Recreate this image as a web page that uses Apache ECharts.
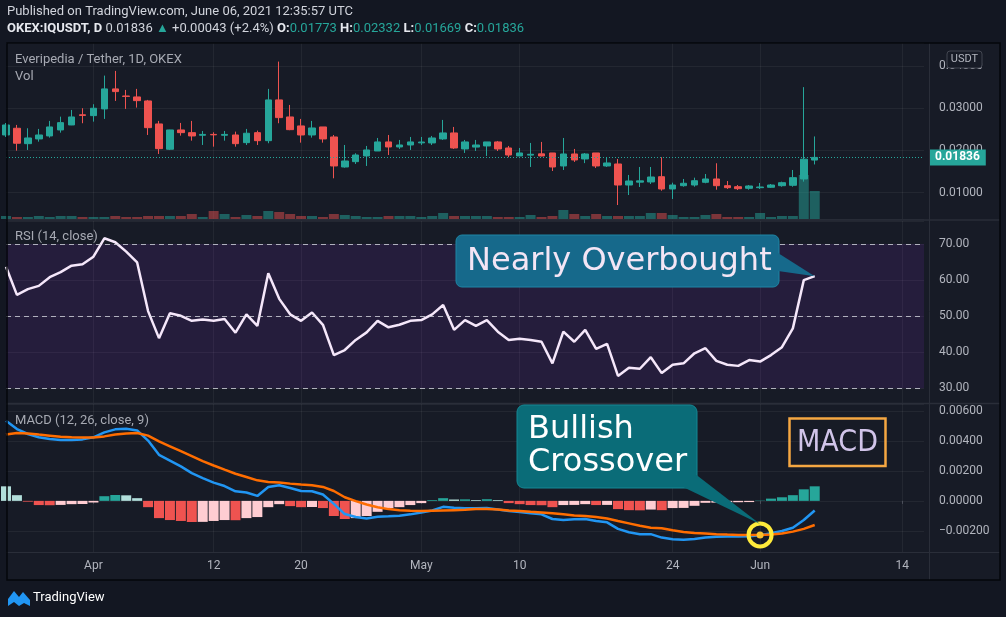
<!DOCTYPE html>
<html><head><meta charset="utf-8">
<script src="https://cdn.jsdelivr.net/npm/echarts@6/dist/echarts.min.js"></script>
<style>
html,body{margin:0;padding:0;background:#131722;overflow:hidden;}
#bg{position:absolute;left:7px;top:43px;width:993px;height:537px;background:#171b26;}
#c{position:absolute;left:0;top:0;width:1006px;height:617px;}
</style>
</head><body><div id="bg"></div><div id="c"></div><script>
// ---- data ----
const startDate = '2021-03-24';
const dayCount = 85; // Mar 24 .. Jun 16
const tickDates = ['2021-04-01','2021-04-12','2021-04-20','2021-05-01','2021-05-10','2021-05-24','2021-06-01','2021-06-14'];
const tickLabels = ['Apr','12','20','May','10','24','Jun','14'];
// [open, close, low, high]
const candles = [
[0.02367,0.02604,0.02320,0.02650],[0.02526,0.02171,0.01995,0.02605],[0.02161,0.02296,0.02012,0.02526],[0.02273,0.02367,0.02209,0.02510],
[0.02344,0.02557,0.02304,0.02700],[0.02486,0.02659,0.02422,0.02801],[0.02604,0.02794,0.02600,0.02960],[0.02845,0.02830,0.02645,0.03000],
[0.02825,0.03000,0.02683,0.03095],[0.02984,0.03458,0.02747,0.03773],[0.03458,0.03394,0.03173,0.03884],[0.03290,0.03280,0.02984,0.03434],
[0.03268,0.03180,0.03015,0.03458],[0.03173,0.02540,0.02367,0.03197],[0.02628,0.02043,0.01917,0.02700],[0.02029,0.02486,0.02010,0.02490],
[0.02486,0.02422,0.02351,0.02652],[0.02422,0.02344,0.02232,0.02700],[0.02360,0.02380,0.02130,0.02462],[0.02380,0.02370,0.02090,0.02431],
[0.02360,0.02380,0.02232,0.02462],[0.02367,0.02161,0.02090,0.02446],[0.02185,0.02408,0.02130,0.02510],[0.02422,0.02232,0.02130,0.02470],
[0.02232,0.03197,0.02171,0.03458],[0.03197,0.02778,0.02645,0.04105],[0.02794,0.02493,0.02480,0.03078],[0.02581,0.02367,0.02185,0.02747],
[0.02367,0.02533,0.02304,0.02700],[0.02557,0.02273,0.02185,0.02557],[0.02320,0.01633,0.01341,0.02367],[0.01609,0.01751,0.01593,0.02130],
[0.01735,0.01893,0.01680,0.01934],[0.01870,0.02012,0.01633,0.02107],[0.01988,0.02202,0.01990,0.02296],[0.02202,0.02083,0.01893,0.02367],
[0.02083,0.02130,0.02036,0.02249],[0.02130,0.02202,0.02012,0.02320],[0.02180,0.02200,0.02130,0.02320],[0.02178,0.02296,0.02130,0.02344],
[0.02273,0.02415,0.02249,0.02723],[0.02415,0.02059,0.02036,0.02557],[0.02036,0.02202,0.01941,0.02249],[0.02080,0.02130,0.01988,0.02249],
[0.02107,0.02202,0.01870,0.02202],[0.02202,0.02036,0.01988,0.02225],[0.02059,0.01893,0.01839,0.02107],[0.01870,0.01941,0.01870,0.02059],
[0.01890,0.01910,0.01609,0.02178],[0.01920,0.01870,0.01860,0.02202],[0.01941,0.01609,0.01514,0.01941],[0.01633,0.01917,0.01538,0.02296],
[0.01917,0.01775,0.01728,0.02036],[0.01799,0.01917,0.01700,0.01940],[0.01941,0.01633,0.01585,0.01941],[0.01633,0.01704,0.01609,0.01846],
[0.01680,0.01182,0.00708,0.01799],[0.01182,0.01277,0.00945,0.01420],[0.01250,0.01280,0.01135,0.01609],[0.01254,0.01372,0.01206,0.01609],
[0.01379,0.01088,0.01047,0.01839],[0.01088,0.01182,0.00851,0.01237],[0.01166,0.01223,0.01142,0.01325],[0.01182,0.01284,0.01142,0.01356],
[0.01246,0.01325,0.01223,0.01443],[0.01325,0.01166,0.01071,0.01697],[0.01166,0.01119,0.01088,0.01277],[0.01142,0.01095,0.01064,0.01182],
[0.01104,0.01159,0.01071,0.01182],[0.01119,0.01135,0.01088,0.01230],[0.01128,0.01182,0.01111,0.01206],[0.01166,0.01237,0.01142,0.01261],
[0.01175,0.01356,0.01142,0.01538],[0.01325,0.01793,0.01261,0.03500],[0.01773,0.01836,0.01669,0.02332]
];
// volume, thousands
const volumes = [300,200,200,300,200,300,300,200,200,200,300,200,200,300,300,300,300,500,200,800,
500,200,400,300,800,700,500,300,300,200,500,400,300,200,200,300,300,300,200,300,
600,300,300,300,300,200,200,200,400,200,300,900,500,300,500,300,300,300,300,600,
600,400,200,200,400,500,200,200,200,600,200,300,300,4400,2800];
const rsi = [63.7,55.9,57.5,58.4,60.8,62.2,64.0,64.4,66.5,71.6,70.5,67.9,64.9,51.4,43.9,50.8,50.1,48.7,49.1,48.7,
49.2,45.4,50.5,47.3,61.9,54.8,50.5,48.7,51.0,47.6,39.2,40.6,43.4,45.5,48.7,46.9,47.6,48.7,48.9,50.5,
53.1,46.2,48.9,47.3,48.9,45.7,43.4,43.7,43.4,42.9,36.9,45.7,42.9,46.2,40.9,42.3,33.4,35.7,35.4,38.6,
34.2,36.5,36.9,39.7,41.1,37.6,36.5,36.2,37.8,37.4,39.2,41.4,46.6,60.0,61.1];
const macd = [0.00534,0.00479,0.00446,0.00424,0.00413,0.00406,0.00406,0.00410,0.00424,0.00457,
0.00477,0.00481,0.00470,0.00402,0.00307,0.00269,0.00230,0.00185,0.00152,0.00122,
0.00099,0.00064,0.00056,0.00033,0.00093,0.00104,0.00086,0.00066,0.00064,0.00042,
-0.00020,-0.00088,-0.00108,-0.00117,-0.00106,-0.00103,-0.00099,-0.00090,-0.00077,-0.00064,
-0.00040,-0.00046,-0.00050,-0.00050,-0.00048,-0.00057,-0.00068,-0.00075,-0.00083,-0.00090,
-0.00121,-0.00128,-0.00123,-0.00121,-0.00134,-0.00143,-0.00187,-0.00209,-0.00222,-0.00222,
-0.00245,-0.00256,-0.00260,-0.00254,-0.00245,-0.00240,-0.00238,-0.00238,-0.00236,-0.00229,
-0.00216,-0.00201,-0.00179,-0.00128,-0.00064];
const signal = [0.00442,0.00453,0.00450,0.00442,0.00435,0.00428,0.00424,0.00422,0.00422,0.00430,
0.00442,0.00450,0.00453,0.00435,0.00397,0.00364,0.00331,0.00298,0.00265,0.00236,
0.00208,0.00181,0.00159,0.00137,0.00126,0.00122,0.00115,0.00109,0.00104,0.00093,
0.00066,0.00024,-0.00002,-0.00024,-0.00042,-0.00055,-0.00062,-0.00066,-0.00068,-0.00066,
-0.00064,-0.00062,-0.00060,-0.00055,-0.00055,-0.00057,-0.00064,-0.00068,-0.00073,-0.00077,
-0.00083,-0.00090,-0.00097,-0.00101,-0.00108,-0.00117,-0.00134,-0.00150,-0.00166,-0.00179,
-0.00183,-0.00196,-0.00207,-0.00214,-0.00218,-0.00222,-0.00225,-0.00227,-0.00227,-0.00227,
-0.00225,-0.00218,-0.00205,-0.00187,-0.00161];
const hist = [0.00097,0.00038,-0.00005,-0.00028,-0.00029,-0.00027,-0.00022,-0.00021,-0.00011,0.00031,
0.00039,0.00037,0.00018,-0.00042,-0.00115,-0.00128,-0.00134,-0.00141,-0.00140,-0.00134,
-0.00128,-0.00129,-0.00115,-0.00108,-0.00042,-0.00022,-0.00035,-0.00042,-0.00041,-0.00048,
-0.00101,-0.00121,-0.00115,-0.00101,-0.00073,-0.00048,-0.00042,-0.00028,-0.00015,0.00005,
0.00018,0.00009,0.00010,0.00005,0.00011,0.00005,-0.00015,-0.00022,-0.00028,-0.00029,
-0.00042,-0.00028,-0.00027,-0.00022,-0.00028,-0.00027,-0.00055,-0.00062,-0.00063,-0.00058,
-0.00062,-0.00048,-0.00047,-0.00033,-0.00013,-0.00012,-0.00011,-0.00009,-0.00008,0.00002,
0.00015,0.00024,0.00038,0.00077,0.00097];
const lastPrice = 0.01836;
const crossIndex = 69;

// ---- build ----
const dates = [];
const d0 = Date.parse(startDate + 'T00:00:00Z');
for (let i = 0; i < dayCount; i++) dates.push(new Date(d0 + i * 864e5).toISOString().slice(0, 10));

const GRID = 'rgba(255,255,255,0.055)';
const TXT = '#b2b5be';
const FONT = 'Roboto, "Liberation Sans", sans-serif';
const UP = '#26a69a', DOWN = '#ef5350';
const isTick = (idx, val) => tickDates.indexOf(val) >= 0;
const fmtTick = val => { const k = tickDates.indexOf(val); return k >= 0 ? tickLabels[k] : ''; };

function xAx(gi, showLabel) {
  return { type: 'category', gridIndex: gi, data: dates, boundaryGap: false,
    axisLine: { show: false },
    axisTick: { show: showLabel, interval: isTick, length: 3, lineStyle: { color: '#4c505b' } },
    axisLabel: { show: showLabel, interval: isTick, formatter: fmtTick, color: TXT, fontSize: 12, fontFamily: FONT, margin: 8 },
    splitLine: { show: true, interval: isTick, lineStyle: { color: GRID, width: 1 } } };
}
function yAx(gi, min, max, fmt) {
  return { type: 'value', gridIndex: gi, position: 'right', min: min, max: max, scale: true,
    axisLine: { show: false }, axisTick: { show: false },
    axisLabel: { color: TXT, fontSize: 12, fontFamily: FONT, margin: 15, formatter: fmt, showMinLabel: false, showMaxLabel: false },
    splitLine: { show: true, lineStyle: { color: GRID, width: 1 } } };
}
const macdFmt = v => (v < -1e-9 ? '\u2212' : '') + Math.abs(v).toFixed(5);

const chart = echarts.init(document.getElementById('c'));
chart.setOption({
  animation: false,
  backgroundColor: 'transparent',
  grid: [
    { left: 6, right: 82, top: 43, height: 176 },
    { left: 6, right: 82, top: 221, height: 182 },
    { left: 6, right: 82, top: 404, height: 148 }
  ],
  xAxis: [xAx(0, false), xAx(1, false), xAx(2, true)],
  yAxis: [
    yAx(0, 0.00377, 0.04545, v => v.toFixed(5)),
    { type: 'value', gridIndex: 0, show: false, min: 0, max: v => v.max * 4 },
    yAx(1, 25.9, 76.4, v => v.toFixed(2)),
    yAx(2, -0.00341, 0.00646, macdFmt)
  ],
  series: [
    { type: 'bar', name: 'Vol', xAxisIndex: 0, yAxisIndex: 1, data: volumes, barWidth: 10, silent: true,
      itemStyle: { color: p => candles[p.dataIndex][1] >= candles[p.dataIndex][0] ? 'rgba(38,166,154,0.5)' : 'rgba(239,83,80,0.47)' } },
    { type: 'candlestick', xAxisIndex: 0, yAxisIndex: 0, data: candles, barWidth: 7, silent: true,
      itemStyle: { color: UP, color0: DOWN, borderColor: UP, borderColor0: DOWN, borderWidth: 1 },
      markLine: { silent: true, symbol: ['none', 'none'], animation: false, precision: 5,
        data: [{ yAxis: lastPrice }],
        lineStyle: { color: UP, type: [1, 2], width: 1 },
        label: { position: 'end', distance: 5, formatter: lastPrice.toFixed(5), color: '#ffffff', backgroundColor: UP,
          padding: [2, 6, 2, 6], fontSize: 12, fontWeight: 'bold', fontFamily: FONT } } },
    { type: 'line', name: 'RSI', xAxisIndex: 1, yAxisIndex: 2, data: rsi, symbol: 'none', silent: true,
      lineStyle: { color: '#f5e7fa', width: 2.5 },
      markArea: { silent: true, itemStyle: { color: 'rgba(130,40,200,0.14)' }, data: [[{ yAxis: 30 }, { yAxis: 70 }]] },
      markLine: { silent: true, symbol: ['none', 'none'], label: { show: false }, precision: 2,
        lineStyle: { color: 'rgba(210,212,220,0.8)', type: [5, 4], width: 1 },
        data: [{ yAxis: 70 }, { yAxis: 50 }, { yAxis: 30 }] } },
    { type: 'bar', name: 'Histogram', xAxisIndex: 2, yAxisIndex: 3, data: hist, barWidth: 10, silent: true,
      itemStyle: { color: p => {
        const v = hist[p.dataIndex], pv = p.dataIndex > 0 ? hist[p.dataIndex - 1] : Infinity;
        if (v >= 0) return pv < v ? '#26a69a' : '#b2dfdb';
        return pv < v ? '#ffcdd2' : '#ef5350'; } } },
    { type: 'line', name: 'MACD', xAxisIndex: 2, yAxisIndex: 3, data: macd, symbol: 'none', silent: true,
      lineStyle: { color: '#2196f3', width: 2.5 } },
    { type: 'line', name: 'Signal', xAxisIndex: 2, yAxisIndex: 3, data: signal, symbol: 'none', silent: true,
      lineStyle: { color: '#ff6d00', width: 2.5 },
      markPoint: { silent: true, animation: false, label: { show: false },
        data: [
          { coord: [dates[crossIndex], signal[crossIndex]], symbol: 'circle', symbolSize: 23,
            itemStyle: { color: 'rgba(0,0,0,0)', borderColor: '#ffeb3b', borderWidth: 4 } },
          { coord: [dates[crossIndex], signal[crossIndex]], symbol: 'circle', symbolSize: 7,
            itemStyle: { color: '#f9c22e' } }
        ] } }
  ]
});

// ---- annotations and frame ----
const tip1 = chart.convertToPixel({ seriesIndex: 2 }, [dates[rsi.length - 1], rsi[rsi.length - 1]]);
const tip2 = chart.convertToPixel({ seriesIndex: 5 }, [dates[crossIndex], signal[crossIndex]]);
const CALL = '"DejaVu Sans", Verdana, sans-serif';
const WM = '#a7aab3';
const line = (x1, y1, x2, y2, c, w) => ({ type: 'line', z: 90, silent: true, shape: { x1, y1, x2, y2 }, style: { stroke: c, lineWidth: w } });
const txt = (x, y, t, size, color, extra) => ({ type: 'text', z: 100, silent: true, x, y,
  style: Object.assign({ text: t, fill: color, fontSize: size, fontFamily: FONT, verticalAlign: 'middle' }, extra || {}) });

chart.setOption({ graphic: [
  // frame and separators
  line(7, 220, 1000, 220, '#2a2e39', 1.5),
  line(7, 403.5, 1000, 403.5, '#2a2e39', 1.5),
  line(7, 552.5, 1000, 552.5, '#2a2e39', 1),
  line(929.5, 43, 929.5, 580, '#2a2e39', 1),
  { type: 'rect', z: 95, silent: true, shape: { x: 7, y: 43, width: 993, height: 537 }, style: { fill: null, stroke: '#05070b', lineWidth: 1.5 } },
  // header
  txt(7, 12, 'Published on TradingView.com, June 06, 2021 12:35:57 UTC', 13, '#d1d4dc'),
  { type: 'text', z: 100, silent: true, x: 7, y: 29, style: {
      text: '{b|OKEX:IQUSDT, D} {n|0.01836} {g|\u25B2} {n|+0.00043 (+2.4%)} {b|O:}{g|0.01773} {b|H:}{g|0.02332} {b|L:}{g|0.01669} {b|C:}{g|0.01836}',
      verticalAlign: 'middle', fill: '#d1d4dc', fontSize: 13, fontFamily: FONT,
      rich: { b: { fill: '#e6e8ee', fontWeight: 'bold', fontSize: 13, fontFamily: FONT },
              n: { fill: '#d1d4dc', fontSize: 13, fontFamily: FONT },
              g: { fill: '#26a69a', fontSize: 13, fontFamily: FONT } } } },
  // pane titles
  txt(15, 60, 'Everipedia / Tether, 1D, OKEX', 13, WM),
  txt(15, 77, 'Vol', 13, WM),
  txt(15, 236.5, 'RSI (14, close)', 13, WM),
  txt(15, 421, 'MACD (12, 26, close, 9)', 13, WM),
  // USDT tag
  { type: 'rect', z: 100, silent: true, shape: { x: 947, y: 51, width: 35, height: 17, r: 3 }, style: { fill: '#171b26', stroke: '#434651', lineWidth: 1 } },
  txt(964.5, 59.5, 'USDT', 11, TXT, { align: 'center' }),
  // callout 1
  { type: 'rect', z: 100, silent: true, shape: { x: 456, y: 235, width: 323, height: 52, r: 6 }, style: { fill: '#16698b', stroke: '#1e86a5', lineWidth: 1 } },
  { type: 'polygon', z: 101, silent: true, shape: { points: [[778, 253], [778, 271], [tip1[0], tip1[1]]] }, style: { fill: '#16698b' } },
  txt(467, 262, 'Nearly Overbought', 32, '#f3e5f5', { fontFamily: CALL }),
  // callout 2
  { type: 'rect', z: 100, silent: true, shape: { x: 517, y: 405, width: 180, height: 83, r: 7 }, style: { fill: '#0a6c78', stroke: '#148894', lineWidth: 1 } },
  { type: 'polygon', z: 101, silent: true, shape: { points: [[684, 487.5], [696.5, 475], [tip2[0], tip2[1] - 11]] }, style: { fill: '#0a6c78' } },
  txt(528, 430, 'Bullish', 32, '#ffffff', { fontFamily: CALL }),
  txt(528, 463, 'Crossover', 32, '#ffffff', { fontFamily: CALL }),
  // MACD box
  { type: 'rect', z: 100, silent: true, shape: { x: 789.5, y: 418.5, width: 96, height: 47.5 }, style: { fill: null, stroke: '#f5a742', lineWidth: 2.5 } },
  txt(837.5, 443, 'MACD', 30, '#d1c4e9', { align: 'center', fontFamily: '"DejaVu Sans Condensed", "DejaVu Sans", sans-serif' }),
  // TradingView logo
  { type: 'polygon', z: 100, silent: true, shape: { points: [[8, 606], [8, 599], [14, 591], [19, 597], [23, 592], [30, 600], [30, 606], [24, 603], [19, 606], [14, 602]] }, style: { fill: '#2196f3' } },
  txt(33, 598, 'TradingView', 13, '#ffffff')
] });
</script></body></html>
